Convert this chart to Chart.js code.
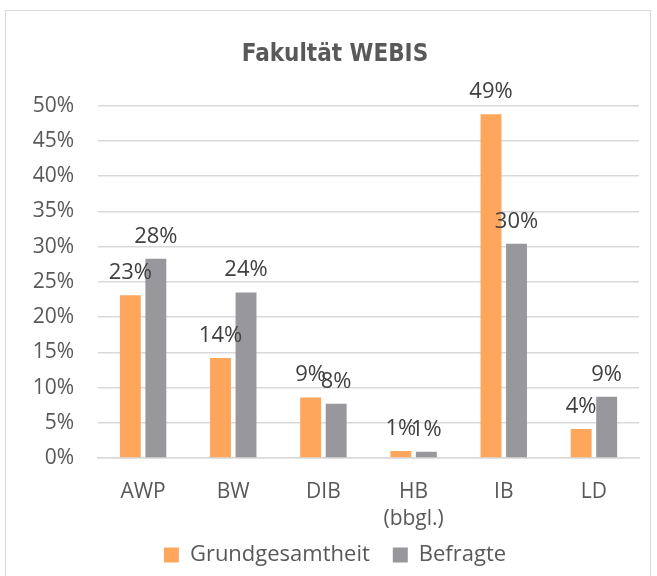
<!DOCTYPE html>
<html lang="de">

<head>
    <meta charset="UTF-8">
    <title>Fakultät WEBIS</title>
    <script src="https://cdn.jsdelivr.net/npm/chart.js"></script>
</head>

<style>
    body {
        margin: 0;
        padding: 0;
        background-color: #FFF;
        overflow: hidden;
    }

    .rahmen {
        position: absolute;
        left: 5px;
        top: 10px;
        width: 644px;
        height: 580px;
        border: 1px solid #D9D9D9;
    }

    .grafico {
        position: absolute;
        left: 0;
        top: 0;
        width: 657px;
        height: 576px;
    }
</style>

<body>
    <div class="rahmen"></div>
    <div class="grafico">
        <canvas id="meuGrafico"></canvas>
    </div>
</body>

</html>

<script>
    // Daten
    const kategorien = ['AWP', 'BW', 'DIB', ['HB', '(bbgl.)'], 'IB', 'LD'];
    const grundgesamtheit = [23.1, 14.2, 8.6, 1.0, 48.8, 4.1];
    const befragte = [28.3, 23.5, 7.7, 0.9, 30.4, 8.7];
    const yMin = 0;
    const yMax = 50;
    const ySchritt = 5;

    const schrift = "'Open Sans', 'Noto Sans', sans-serif";
    const grau = '#595959';

    // Werte-Labels über den Balken
    const wertLabels = {
        id: 'wertLabels',
        afterDatasetsDraw(chart) {
            const ctx = chart.ctx;
            ctx.save();
            ctx.font = `22px ${schrift}`;
            ctx.fillStyle = '#404040';
            ctx.textAlign = 'center';
            ctx.textBaseline = 'alphabetic';
            chart.data.datasets.forEach((ds, i) => {
                chart.getDatasetMeta(i).data.forEach((bar, j) => {
                    ctx.fillText(Math.round(ds.data[j]) + '%', bar.x, bar.y - 16);
                });
            });
            ctx.restore();
        }
    };

    const config = {
        type: 'bar',
        data: {
            labels: kategorien,
            datasets: [{
                label: 'Grundgesamtheit',
                data: grundgesamtheit,
                backgroundColor: '#FDA65C',
                categoryPercentage: 0.566,
                barPercentage: 0.82
            },
            {
                label: 'Befragte',
                data: befragte,
                backgroundColor: '#98989C',
                categoryPercentage: 0.566,
                barPercentage: 0.82
            }]
        },
        options: {
            responsive: true,
            maintainAspectRatio: false,
            animation: false,
            layout: {
                padding: { left: 31, right: 18, top: 0, bottom: 0 }
            },
            scales: {
                x: {
                    grid: { display: false, drawTicks: false },
                    border: { color: '#D9D9D9', width: 1.5 },
                    ticks: {
                        color: grau,
                        padding: 20,
                        maxRotation: 0,
                        autoSkip: false,
                        font: { family: schrift, size: 21, lineHeight: 1.3 }
                    },
                    afterFit(scale) { scale.height = 74; }
                },
                y: {
                    min: yMin,
                    max: yMax,
                    grid: { color: '#D9D9D9', lineWidth: 1.5, drawTicks: false },
                    border: { display: false },
                    ticks: {
                        stepSize: ySchritt,
                        padding: 24,
                        color: grau,
                        font: { family: schrift, size: 21 },
                        callback: (v) => v + '%'
                    },
                    afterFit(scale) { scale.width = 67; }
                }
            },
            plugins: {
                legend: {
                    position: 'bottom',
                    labels: {
                        boxWidth: 15,
                        boxHeight: 15,
                        padding: 12,
                        color: grau,
                        font: { family: schrift, size: 22 },
                        generateLabels(chart) {
                            const items = Chart.defaults.plugins.legend.labels.generateLabels(chart);
                            items.forEach((it, i) => {
                                if (i < items.length - 1) it.text = it.text + '\u2002';
                            });
                            return items;
                        }
                    }
                },
                title: {
                    display: true,
                    text: 'Fakultät WEBIS',
                    color: grau,
                    padding: { top: 40, bottom: 37 },
                    font: { family: "'DejaVu Sans Condensed', 'Liberation Sans Narrow', 'DejaVu Sans', sans-serif", size: 24, weight: 'bold' }
                },
                tooltip: { enabled: false }
            }
        },
        plugins: [wertLabels]
    };

    new Chart(document.getElementById('meuGrafico'), config);
</script>
